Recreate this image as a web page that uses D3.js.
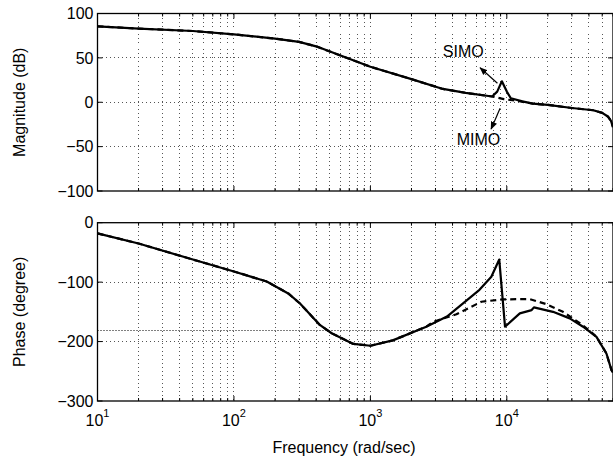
<!DOCTYPE html>
<html>
<head>
<meta charset="utf-8">
<script src="https://cdn.jsdelivr.net/npm/d3@7"></script>
<style>
  body { margin: 0; background: #fff; }
  svg { display: block; font-family: "Liberation Sans", Arial, Helvetica, sans-serif; }
  .grid line { stroke: #555; stroke-width: 1; stroke-dasharray: 1,3; shape-rendering: crispEdges; }
</style>
</head>
<body>
<div id="chart"></div>
<script>
// Magnitude (dB) - SIMO (solid) and MIMO (dashed)
var magFreq = [10, 20, 50, 100, 200, 300, 400, 1000, 2000, 3400, 5000, 7800, 8500, 9200, 10000, 10700, 13000, 15500, 20000, 30000, 43000, 50000, 55000, 58000, 60000];
var magSimo = [85.5, 83, 80.3, 76.5, 71.7, 68, 63, 40, 26, 15, 10.5, 6.5, 12, 23.6, 12, 4.5, 1, -1.5, -3, -6.5, -9, -12, -16, -21, -28];
var magMimoFreq = [10, 20, 50, 100, 200, 300, 400, 1000, 2000, 3400, 5000, 7800, 9500, 12000, 15500, 20000, 30000, 43000, 50000, 55000, 58000, 60000];
var magMimo = [85.5, 83, 80.3, 76.5, 71.7, 68, 63, 40, 26, 15, 10.5, 6.5, 3.5, 1.5, -1.5, -3, -6.5, -9, -12, -16, -21, -28];

// Phase (degree)
var phFreq = [10, 20, 50, 100, 174, 250, 305, 426, 520, 750, 1000, 1460, 2570, 3640, 6300, 7700, 8800, 9700, 12450, 15200, 15800, 21800, 28900, 36200, 45400, 53700, 58500, 60000];
var phSimo = [-18, -35, -62, -82, -99, -119, -136, -172, -186, -204, -207, -198, -175, -158, -113, -91, -62, -175, -152.5, -147, -142.5, -150, -161, -175, -192, -220, -248, -252];
var phMimoFreq = [10, 20, 50, 100, 174, 250, 305, 426, 520, 750, 1000, 1460, 2570, 2870, 4270, 6000, 6510, 9400, 14700, 19500, 25800, 34300, 40600, 45400, 53700, 58500, 60000];
var phMimo = [-18, -35, -62, -82, -99, -119, -136, -172, -186, -204, -207, -198, -175, -167, -154, -137, -133, -129, -128.5, -137, -150, -169, -182, -192, -220, -248, -252];

// ticks
var magTicks = [-100, -50, 0, 50, 100];
var phTicks = [-300, -200, -100, 0];
var decades = [10, 100, 1000, 10000];

// annotations (data coords)
var labels = [
  { text: "SIMO", f: 4790, db: 51.3 },
  { text: "MIMO", f: 6190, db: -48.2 }
];
var arrows = [
  { f1: 8530, db1: 21.4, f2: 6370, db2: 38.9 },
  { f1: 8930, db1: -6.8, f2: 7670, db2: -30.1 }
];

var W = 613, H = 465;
var left = 97.5, right = 613;

var svg = d3.select("#chart").append("svg")
    .attr("width", W)
    .attr("height", H);

svg.append("defs").append("marker")
    .attr("id", "head")
    .attr("viewBox", "0 0 10 10")
    .attr("refX", 9).attr("refY", 5)
    .attr("markerWidth", 8).attr("markerHeight", 8)
    .attr("markerUnits", "userSpaceOnUse")
    .attr("orient", "auto")
  .append("path")
    .attr("d", "M0,1 L10,5 L0,9 Z")
    .attr("fill", "#000");

var x = d3.scaleLog().domain([10, 60000]).range([left, right]);
var yMag = d3.scaleLinear().domain([-100, 100]).range([191, 13.5]);
var yPh = d3.scaleLinear().domain([-300, 0]).range([401, 222.7]);

// all log tick positions (majors + minors)
var allX = [];
decades.forEach(function(d) {
  for (var k = 1; k <= 9; k++) {
    var v = d * k;
    if (v <= 60000) allX.push(v);
  }
});

function minus(v) { return v < 0 ? "\u2212" + Math.abs(v) : "" + v; }

function drawPanel(y, ticks, yTop, yBot) {
  var g = svg.append("g");

  // grid
  var grid = g.append("g").attr("class", "grid");
  grid.selectAll(".gx").data(allX.filter(function(v) { return v > 10; }))
    .enter().append("line")
      .attr("x1", function(d) { return x(d); }).attr("x2", function(d) { return x(d); })
      .attr("y1", yTop).attr("y2", yBot);
  grid.selectAll(".gy").data(ticks.slice(1, -1))
    .enter().append("line")
      .attr("x1", left).attr("x2", right)
      .attr("y1", function(d) { return y(d); }).attr("y2", function(d) { return y(d); });

  // box
  g.append("rect")
    .attr("x", left).attr("y", yTop)
    .attr("width", right - left).attr("height", yBot - yTop)
    .attr("fill", "none").attr("stroke", "#000").attr("stroke-width", 1.3);

  // x ticks, inside, top and bottom
  var xt = g.append("g");
  allX.forEach(function(v) {
    var len = decades.indexOf(v) >= 0 ? 5 : 3;
    xt.append("line").attr("x1", x(v)).attr("x2", x(v)).attr("y1", yBot).attr("y2", yBot - len).attr("stroke", "#000");
    xt.append("line").attr("x1", x(v)).attr("x2", x(v)).attr("y1", yTop).attr("y2", yTop + len).attr("stroke", "#000");
  });

  // y ticks and labels
  ticks.forEach(function(v) {
    g.append("line").attr("x1", left).attr("x2", left + 5).attr("y1", y(v)).attr("y2", y(v)).attr("stroke", "#000");
    g.append("line").attr("x1", right).attr("x2", right - 5).attr("y1", y(v)).attr("y2", y(v)).attr("stroke", "#000");
    g.append("text")
      .attr("x", left - 4).attr("y", y(v))
      .attr("dy", "0.36em")
      .attr("text-anchor", "end")
      .attr("font-size", 16)
      .text(minus(v));
  });
  return g;
}

var gMag = drawPanel(yMag, magTicks, 13.5, 191);
var gPh = drawPanel(yPh, phTicks, 222.7, 401);

// -180 degree line
gPh.append("line")
  .attr("x1", left).attr("x2", right)
  .attr("y1", Math.round(yPh(-180)) + 0.5).attr("y2", Math.round(yPh(-180)) + 0.5)
  .attr("stroke", "#000").attr("stroke-width", 1).attr("stroke-dasharray", "1,2");

// curves
function drawLine(g, fx, vals, y, dashed) {
  var pts = fx.map(function(f, i) { return [f, vals[i]]; });
  g.append("path")
    .datum(pts)
    .attr("fill", "none")
    .attr("stroke", "#000")
    .attr("stroke-width", 2.2)
    .attr("stroke-linejoin", "round")
    .attr("stroke-dasharray", dashed ? "6,4" : null)
    .attr("d", d3.line().x(function(d) { return x(d[0]); }).y(function(d) { return y(d[1]); }));
}

drawLine(gMag, magMimoFreq, magMimo, yMag, true);
drawLine(gMag, magFreq, magSimo, yMag, false);
drawLine(gPh, phMimoFreq, phMimo, yPh, true);
drawLine(gPh, phFreq, phSimo, yPh, false);

// annotations
labels.forEach(function(l) {
  gMag.append("text")
    .attr("x", x(l.f)).attr("y", yMag(l.db))
    .attr("text-anchor", "middle")
    .attr("font-size", 16)
    .text(l.text);
});
arrows.forEach(function(a) {
  gMag.append("line")
    .attr("x1", x(a.f1)).attr("y1", yMag(a.db1))
    .attr("x2", x(a.f2)).attr("y2", yMag(a.db2))
    .attr("stroke", "#000").attr("stroke-width", 1.2)
    .attr("marker-end", "url(#head)");
});

// x tick labels (powers of ten)
decades.forEach(function(d) {
  var t = svg.append("text")
    .attr("x", x(d)).attr("y", 426)
    .attr("text-anchor", "middle")
    .attr("font-size", 16);
  t.append("tspan").text("10");
  t.append("tspan").attr("dy", -9).attr("font-size", 11).text(Math.round(Math.log10(d)));
});

// axis labels
svg.append("text")
  .attr("x", 344).attr("y", 453)
  .attr("text-anchor", "middle")
  .attr("font-size", 16)
  .text("Frequency (rad/sec)");

svg.append("text")
  .attr("transform", "translate(25," + ((13.5 + 191) / 2) + ") rotate(-90)")
  .attr("text-anchor", "middle")
  .attr("font-size", 16)
  .text("Magnitude (dB)");

svg.append("text")
  .attr("transform", "translate(25," + ((222.7 + 401) / 2) + ") rotate(-90)")
  .attr("text-anchor", "middle")
  .attr("font-size", 16)
  .text("Phase (degree)");
</script>
</body>
</html>
